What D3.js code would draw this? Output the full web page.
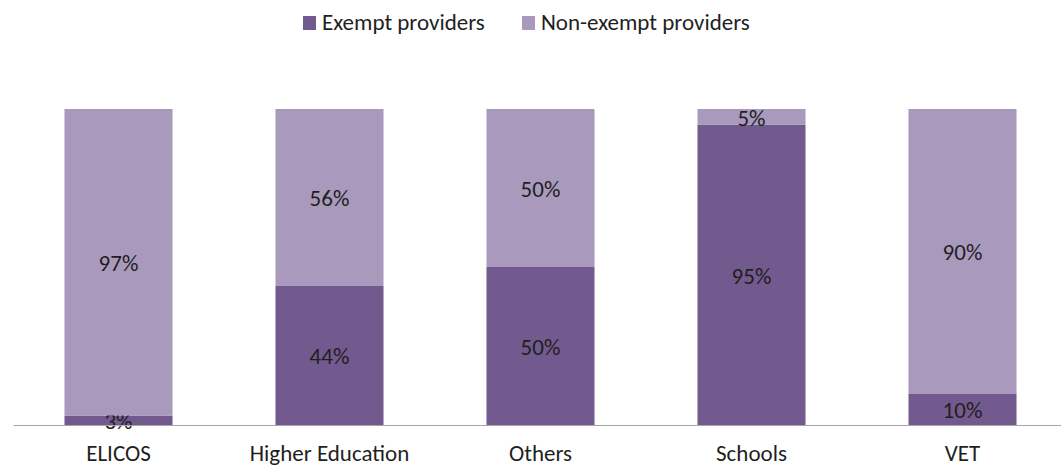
<!DOCTYPE html>
<html>
<head>
<meta charset="utf-8">
<script src="https://cdn.jsdelivr.net/npm/d3@7"></script>
<style>
  body { margin: 0; background: #fff; }
  svg { font-family: Carlito, Calibri, "Liberation Sans", sans-serif; }
</style>
</head>
<body>
<svg id="chart" width="1061" height="465"></svg>
<script>
// chart data
const categories = ['ELICOS', 'Higher Education', 'Others', 'Schools', 'VET'];
const exempt = [3, 44, 50, 95, 10];
const nonExempt = [97, 56, 50, 5, 90];
const seriesNames = ['Exempt providers', 'Non-exempt providers'];
const colors = ['#725a8e', '#a99abd'];

const margin = { left: 13, right: -7, top: 109, bottom: 40 };
const width = 1061, height = 465;

const svg = d3.select('#chart');

const rows = categories.map((c, i) => ({ cat: c, exempt: exempt[i], nonExempt: nonExempt[i] }));
const stack = d3.stack().keys(['exempt', 'nonExempt'])(rows);

const x = d3.scaleBand()
    .domain(categories)
    .range([margin.left, width - margin.right])
    .paddingInner(0.488)
    .paddingOuter(0.244);

const y = d3.scaleLinear()
    .domain([0, 100])
    .range([height - margin.bottom, margin.top]);

// bars
const layers = svg.append('g')
    .selectAll('g')
    .data(stack)
    .join('g')
    .attr('fill', (d, i) => colors[i]);

layers.selectAll('rect')
    .data(d => d)
    .join('rect')
    .attr('x', d => x(d.data.cat))
    .attr('y', d => y(d[1]))
    .attr('width', x.bandwidth())
    .attr('height', d => y(d[0]) - y(d[1]));

// value labels
layers.selectAll('text')
    .data(d => d)
    .join('text')
    .attr('x', d => x(d.data.cat) + x.bandwidth() / 2)
    .attr('y', d => (y(d[0]) + y(d[1])) / 2)
    .attr('dy', '0.38em')
    .attr('text-anchor', 'middle')
    .attr('fill', '#1f1f1f')
    .style('font-size', '23px')
    .text(d => (d[1] - d[0]) + '%');

// x axis
const xAxis = svg.append('g')
    .attr('transform', `translate(0, ${y(0)})`)
    .attr('font-family', null)
    .call(d3.axisBottom(x).tickSize(0).tickPadding(20));
xAxis.attr('font-family', null).attr('font-size', null);
xAxis.select('.domain').attr('stroke', '#a6a6a6').attr('stroke-width', 1);
xAxis.selectAll('text')
    .attr('fill', '#1f1f1f')
    .style('font-size', '23px');

// legend
const legendX = [303, 522];
const legend = svg.append('g')
    .selectAll('g')
    .data(seriesNames)
    .join('g')
    .attr('transform', (d, i) => `translate(${legendX[i]}, 23)`);

legend.append('rect')
    .attr('x', 0)
    .attr('y', -7)
    .attr('width', 13)
    .attr('height', 14)
    .attr('fill', (d, i) => colors[i]);

legend.append('text')
    .attr('x', 19)
    .attr('dy', '0.3em')
    .attr('fill', '#1f1f1f')
    .style('font-size', '23px')
    .text(d => d);
</script>
</body>
</html>
